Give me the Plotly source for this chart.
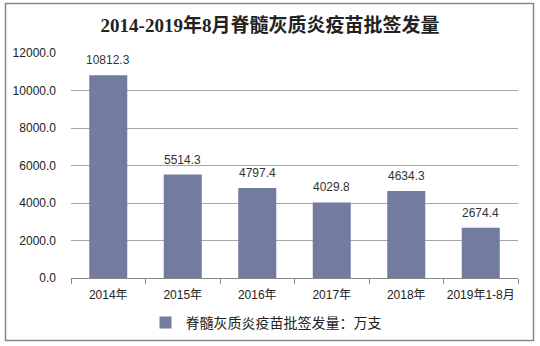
import plotly.graph_objects as go

categories = ["2014年", "2015年", "2016年", "2017年", "2018年", "2019年1-8月"]
values = [10812.3, 5514.3, 4797.4, 4029.8, 4634.3, 2674.4]
series_name = "脊髓灰质炎疫苗批签发量：万支"
title_text = "2014-2019年8月脊髓灰质炎疫苗批签发量"

W, H = 540, 346
L, R, T, B = 71, 22, 53, 68
pw, ph = W - L - R, H - T - B

def px_x(x):
    return (x - L) / pw

def px_y(y):
    return (H - B - y) / ph

fig = go.Figure()
fig.add_trace(go.Bar(
    x=categories, y=values, name=series_name,
    marker=dict(color="#717CA0", line=dict(width=0)),
    showlegend=True,
))

for c, v in zip(categories, values):
    fig.add_annotation(x=c, y=v, text=f"{v:.1f}", showarrow=False,
                       yanchor="bottom", yshift=6,
                       font=dict(family="Liberation Sans, Arial", size=12, color="#333333"))

fig.update_layout(
    width=W, height=H,
    margin=dict(l=L, r=R, t=T, b=B, autoexpand=False),
    paper_bgcolor="white", plot_bgcolor="white",
    bargap=0.49,
    title=dict(text="<b>" + title_text + "</b>", x=0.5, xanchor="center",
               y=1 - 25 / H, yanchor="middle",
               font=dict(family="Liberation Serif, Noto Sans CJK SC", size=19, color="#222222")),
    xaxis=dict(type="category", showline=True, linecolor="#888888", linewidth=1,
               ticks="outside", tickson="boundaries", ticklen=5, tickcolor="#888888",
               ticklabelstandoff=6, tickangle=0, automargin=False,
               tickfont=dict(family="Liberation Sans, Noto Sans CJK SC", size=12, color="#222222"),
               showgrid=False),
    yaxis=dict(range=[0, 12000], dtick=2000, tickformat=".1f", automargin=False,
               showgrid=True, gridcolor="#A6A6A6", gridwidth=1, showline=False,
               zeroline=False, ticks="", ticklabelstandoff=14,
               tickfont=dict(family="Liberation Sans, Arial", size=12, color="#222222")),
    legend=dict(orientation="h", x=px_x(266), xanchor="center", y=px_y(323), yanchor="middle",
                font=dict(family="Noto Sans CJK SC", size=14, color="#222222"),
                itemwidth=30),
    shapes=[dict(type="rect", xref="paper", yref="paper",
                 x0=px_x(5.5), x1=px_x(533.5), y0=px_y(340.5), y1=px_y(3.5),
                 line=dict(color="#888888", width=1.5), layer="below")],
)

fig.write_html("out.html")
